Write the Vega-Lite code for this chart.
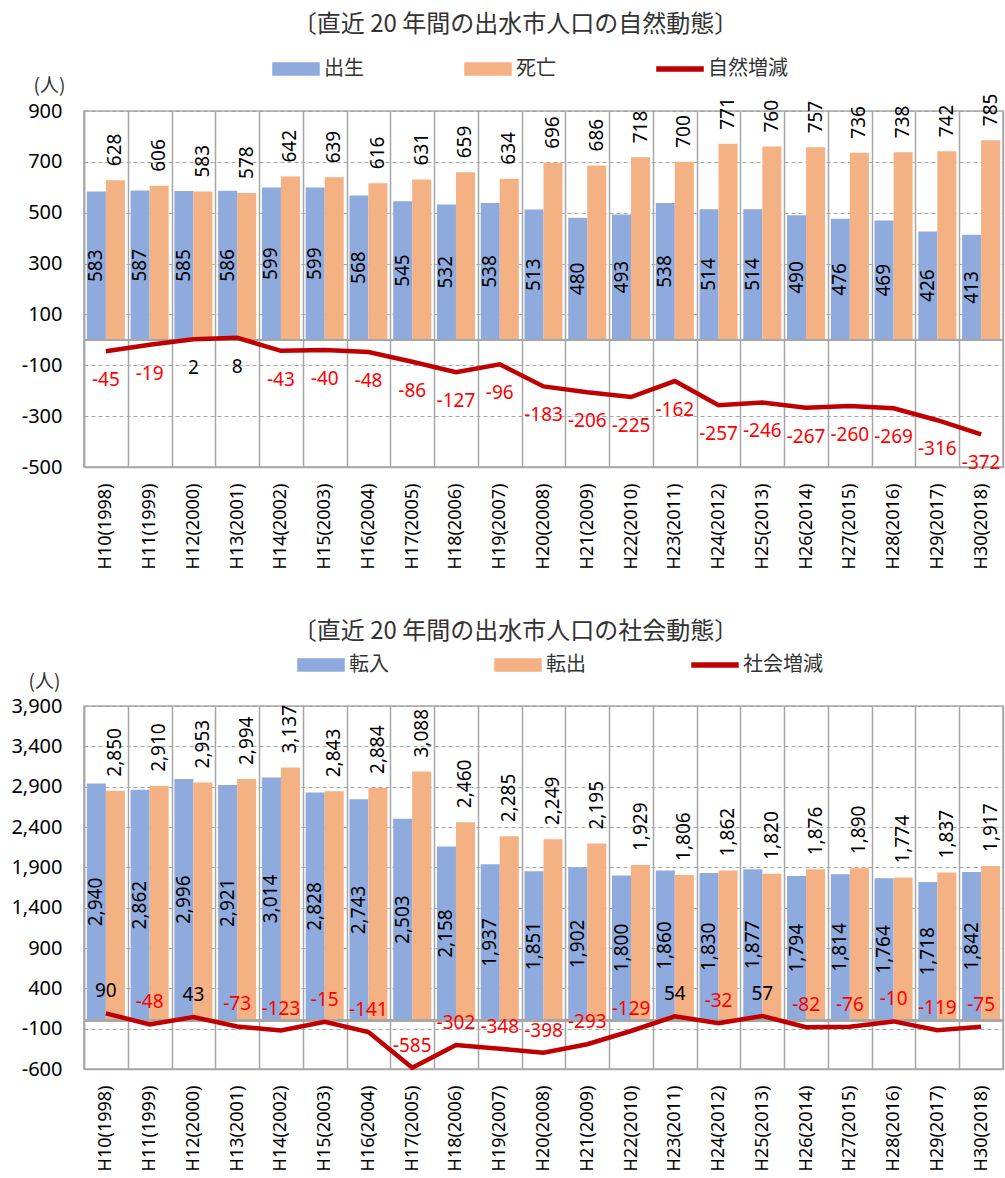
{
  "$schema": "https://vega.github.io/schema/vega-lite/v6.json",
  "padding": {"left": 10, "top": 12, "right": 0, "bottom": 0},
  "background": "white",
  "config": {
    "font": "Noto Sans CJK JP",
    "view": {"stroke": "#A6A6A6", "strokeWidth": 1.5},
    "axis": {"labelFont": "Noto Sans", "labelColor": "black", "labelFontSize": 18}
  },
  "datasets": {
    "nat": [
      {"year": "H10(1998)", "出生": 583, "死亡": 628, "自然増減": -45},
      {"year": "H11(1999)", "出生": 587, "死亡": 606, "自然増減": -19},
      {"year": "H12(2000)", "出生": 585, "死亡": 583, "自然増減": 2},
      {"year": "H13(2001)", "出生": 586, "死亡": 578, "自然増減": 8},
      {"year": "H14(2002)", "出生": 599, "死亡": 642, "自然増減": -43},
      {"year": "H15(2003)", "出生": 599, "死亡": 639, "自然増減": -40},
      {"year": "H16(2004)", "出生": 568, "死亡": 616, "自然増減": -48},
      {"year": "H17(2005)", "出生": 545, "死亡": 631, "自然増減": -86},
      {"year": "H18(2006)", "出生": 532, "死亡": 659, "自然増減": -127},
      {"year": "H19(2007)", "出生": 538, "死亡": 634, "自然増減": -96},
      {"year": "H20(2008)", "出生": 513, "死亡": 696, "自然増減": -183},
      {"year": "H21(2009)", "出生": 480, "死亡": 686, "自然増減": -206},
      {"year": "H22(2010)", "出生": 493, "死亡": 718, "自然増減": -225},
      {"year": "H23(2011)", "出生": 538, "死亡": 700, "自然増減": -162},
      {"year": "H24(2012)", "出生": 514, "死亡": 771, "自然増減": -257},
      {"year": "H25(2013)", "出生": 514, "死亡": 760, "自然増減": -246},
      {"year": "H26(2014)", "出生": 490, "死亡": 757, "自然増減": -267},
      {"year": "H27(2015)", "出生": 476, "死亡": 736, "自然増減": -260},
      {"year": "H28(2016)", "出生": 469, "死亡": 738, "自然増減": -269},
      {"year": "H29(2017)", "出生": 426, "死亡": 742, "自然増減": -316},
      {"year": "H30(2018)", "出生": 413, "死亡": 785, "自然増減": -372}
    ],
    "soc": [
      {"year": "H10(1998)", "転入": 2940, "転出": 2850, "社会増減": 90},
      {"year": "H11(1999)", "転入": 2862, "転出": 2910, "社会増減": -48},
      {"year": "H12(2000)", "転入": 2996, "転出": 2953, "社会増減": 43},
      {"year": "H13(2001)", "転入": 2921, "転出": 2994, "社会増減": -73},
      {"year": "H14(2002)", "転入": 3014, "転出": 3137, "社会増減": -123},
      {"year": "H15(2003)", "転入": 2828, "転出": 2843, "社会増減": -15},
      {"year": "H16(2004)", "転入": 2743, "転出": 2884, "社会増減": -141},
      {"year": "H17(2005)", "転入": 2503, "転出": 3088, "社会増減": -585},
      {"year": "H18(2006)", "転入": 2158, "転出": 2460, "社会増減": -302},
      {"year": "H19(2007)", "転入": 1937, "転出": 2285, "社会増減": -348},
      {"year": "H20(2008)", "転入": 1851, "転出": 2249, "社会増減": -398},
      {"year": "H21(2009)", "転入": 1902, "転出": 2195, "社会増減": -293},
      {"year": "H22(2010)", "転入": 1800, "転出": 1929, "社会増減": -129},
      {"year": "H23(2011)", "転入": 1860, "転出": 1806, "社会増減": 54},
      {"year": "H24(2012)", "転入": 1830, "転出": 1862, "社会増減": -32},
      {"year": "H25(2013)", "転入": 1877, "転出": 1820, "社会増減": 57},
      {"year": "H26(2014)", "転入": 1794, "転出": 1876, "社会増減": -82},
      {"year": "H27(2015)", "転入": 1814, "転出": 1890, "社会増減": -76},
      {"year": "H28(2016)", "転入": 1764, "転出": 1774, "社会増減": -10},
      {"year": "H29(2017)", "転入": 1718, "転出": 1837, "社会増減": -119},
      {"year": "H30(2018)", "転入": 1842, "転出": 1917, "社会増減": -75}
    ]
  },
  "spacing": 49,
  "resolve": {
    "scale": {"color": "independent", "x": "independent", "y": "independent", "xOffset": "independent"},
    "legend": {"color": "independent"}
  },
  "vconcat": [
    {
      "width": 919,
      "height": 356,
      "title": {"text": "〔直近 20 年間の出水市人口の自然動態〕", "fontSize": 24, "fontWeight": "normal", "color": "#333333", "dx": -28, "offset": 8},
      "data": {"name": "nat"},
      "resolve": {"scale": {"y": "independent"}},
      "layer": [
        {
          "transform": [{"fold": ["出生", "死亡"], "as": ["key", "value"]}],
          "mark": {"type": "bar"},
          "encoding": {
            "x": {"field": "year", "type": "nominal", "sort": null, "title": null,
              "scale": {"paddingInner": 0, "paddingOuter": 0},
              "axis": {"labelAngle": -90, "labelPadding": 16, "ticks": false, "tickBand": "extent", "grid": true, "gridColor": "#A6A6A6", "gridWidth": 1.5, "domainColor": "#A6A6A6", "domainWidth": 1.5}},
            "xOffset": {"field": "key", "type": "nominal", "sort": ["出生", "死亡"], "scale": {"paddingOuter": 0.15, "paddingInner": 0}},
            "y": {"field": "value", "type": "quantitative", "scale": {"domain": [-500, 900], "nice": false, "zero": false},
              "axis": {"values": [900, 700, 500, 300, 100, -100, -300, -500], "labelExpr": "replace(format(datum.value, ',d'), '\u2212', '-')", "labelFontSize": 20, "grid": true, "gridDash": [4, 3], "gridColor": "#A6A6A6", "gridWidth": 1.2, "domainColor": "#A6A6A6", "domainWidth": 1.5, "ticks": false, "labelPadding": 22,
                "title": "(人)", "titleAngle": 0, "titleAlign": "center", "titleBaseline": "middle", "titleX": -35, "titleY": -26, "titleFontSize": 19, "titleFontWeight": "normal", "titleColor": "#333333"}},
            "color": {"field": "key", "type": "nominal", "scale": {"domain": ["出生", "死亡", "自然増減"], "range": ["#8FAADC", "#F4B183", "#C00000"]},
              "legend": {"orient": "none", "legendX": 188, "legendY": -66, "direction": "horizontal", "title": null, "symbolSize": 2116, "labelFontSize": 20, "labelOffset": 4, "columnPadding": 98, "labelColor": "#333333", "labelFont": "Noto Sans CJK JP",
                "encode": {"symbols": {"update": {
                  "shape": {"signal": "datum.value === '自然増減' ? 'M-1,-0.09H1V0.09H-1Z' : 'M-1,-0.26H1V0.26H-1Z'"},
                  "fill": {"signal": "datum.value === '出生' ? '#8FAADC' : datum.value === '死亡' ? '#F4B183' : '#C00000'"},
                  "stroke": {"value": "transparent"},
                  "opacity": {"value": 1}}}}}}
          }
        },
        {
          "mark": {"type": "rule", "color": "#A6A6A6", "strokeWidth": 1.5},
          "encoding": {"y": {"datum": 0, "type": "quantitative", "scale": {"domain": [-500, 900], "nice": false, "zero": false}, "axis": null}}
        },
        {
          "mark": {"type": "line", "strokeWidth": 4.5},
          "encoding": {
            "x": {"field": "year", "type": "nominal", "sort": null},
            "y": {"field": "自然増減", "type": "quantitative", "scale": {"domain": [-500, 900], "nice": false, "zero": false}, "axis": null},
            "color": {"datum": "自然増減"}
          }
        },
        {
          "mark": {"type": "text", "angle": 270, "align": "left", "baseline": "middle", "dx": 14, "fontSize": 19, "font": "Noto Sans", "color": "black"},
          "encoding": {
            "x": {"field": "year", "type": "nominal", "sort": null},
            "xOffset": {"datum": "死亡", "type": "nominal"},
            "y": {"field": "死亡", "type": "quantitative", "scale": {"domain": [-500, 900], "nice": false, "zero": false}, "axis": null},
            "text": {"field": "死亡", "type": "nominal"}
          }
        },
        {
          "mark": {"type": "text", "angle": 270, "align": "center", "baseline": "middle", "fontSize": 19, "font": "Noto Sans", "color": "black"},
          "encoding": {
            "x": {"field": "year", "type": "nominal", "sort": null},
            "xOffset": {"datum": "出生", "type": "nominal"},
            "y": {"field": "出生", "type": "quantitative", "scale": {"domain": [-1000, 1800], "nice": false, "zero": false}, "axis": null},
            "text": {"field": "出生", "type": "nominal"}
          }
        },
        {
          "mark": {"type": "text", "align": "center", "baseline": "middle", "dy": 29, "fontSize": 19, "font": "Noto Sans"},
          "encoding": {
            "x": {"field": "year", "type": "nominal", "sort": null},
            "y": {"field": "自然増減", "type": "quantitative", "scale": {"domain": [-500, 900], "nice": false, "zero": false}, "axis": null},
            "text": {"field": "自然増減", "type": "nominal"},
            "color": {"condition": {"test": "datum['自然増減'] < 0", "value": "#FF0000"}, "value": "black"}
          }
        }
      ]
    },
    {
      "width": 919,
      "height": 363,
      "title": {"text": "〔直近 20 年間の出水市人口の社会動態〕", "fontSize": 24, "fontWeight": "normal", "color": "#333333", "dx": -28, "offset": -3},
      "data": {"name": "soc"},
      "resolve": {"scale": {"y": "independent"}},
      "layer": [
        {
          "transform": [{"fold": ["転入", "転出"], "as": ["key", "value"]}],
          "mark": {"type": "bar"},
          "encoding": {
            "x": {"field": "year", "type": "nominal", "sort": null, "title": null,
              "scale": {"paddingInner": 0, "paddingOuter": 0},
              "axis": {"labelAngle": -90, "labelPadding": 16, "ticks": false, "tickBand": "extent", "grid": true, "gridColor": "#A6A6A6", "gridWidth": 1.5, "domainColor": "#A6A6A6", "domainWidth": 1.5}},
            "xOffset": {"field": "key", "type": "nominal", "sort": ["転入", "転出"], "scale": {"paddingOuter": 0.15, "paddingInner": 0}},
            "y": {"field": "value", "type": "quantitative", "scale": {"domain": [-600, 3900], "nice": false, "zero": false},
              "axis": {"values": [3900, 3400, 2900, 2400, 1900, 1400, 900, 400, -100, -600], "labelExpr": "replace(format(datum.value, ',d'), '\u2212', '-')", "labelFontSize": 20, "grid": true, "gridDash": [4, 3], "gridColor": "#A6A6A6", "gridWidth": 1.2, "domainColor": "#A6A6A6", "domainWidth": 1.5, "ticks": false, "labelPadding": 22,
                "title": "(人)", "titleAngle": 0, "titleAlign": "center", "titleBaseline": "middle", "titleX": -40, "titleY": -25, "titleFontSize": 19, "titleFontWeight": "normal", "titleColor": "#333333"}},
            "color": {"field": "key", "type": "nominal", "scale": {"domain": ["転入", "転出", "社会増減"], "range": ["#8FAADC", "#F4B183", "#C00000"]},
              "legend": {"orient": "none", "legendX": 213, "legendY": -65, "direction": "horizontal", "title": null, "symbolSize": 2116, "labelFontSize": 20, "labelOffset": 4, "columnPadding": 103, "labelColor": "#333333", "labelFont": "Noto Sans CJK JP",
                "encode": {"symbols": {"update": {
                  "shape": {"signal": "datum.value === '社会増減' ? 'M-1,-0.09H1V0.09H-1Z' : 'M-1,-0.26H1V0.26H-1Z'"},
                  "fill": {"signal": "datum.value === '転入' ? '#8FAADC' : datum.value === '転出' ? '#F4B183' : '#C00000'"},
                  "stroke": {"value": "transparent"},
                  "opacity": {"value": 1}}}}}}
          }
        },
        {
          "mark": {"type": "rule", "color": "#A6A6A6", "strokeWidth": 1.5},
          "encoding": {"y": {"datum": 0, "type": "quantitative", "scale": {"domain": [-600, 3900], "nice": false, "zero": false}, "axis": null}}
        },
        {
          "mark": {"type": "line", "strokeWidth": 4.5},
          "encoding": {
            "x": {"field": "year", "type": "nominal", "sort": null},
            "y": {"field": "社会増減", "type": "quantitative", "scale": {"domain": [-600, 3900], "nice": false, "zero": false}, "axis": null},
            "color": {"datum": "社会増減"}
          }
        },
        {
          "mark": {"type": "text", "angle": 270, "align": "left", "baseline": "middle", "dx": 14, "fontSize": 19, "font": "Noto Sans", "color": "black"},
          "encoding": {
            "x": {"field": "year", "type": "nominal", "sort": null},
            "xOffset": {"datum": "転出", "type": "nominal"},
            "y": {"field": "転出", "type": "quantitative", "scale": {"domain": [-600, 3900], "nice": false, "zero": false}, "axis": null},
            "text": {"field": "転出", "type": "quantitative", "format": ","}
          }
        },
        {
          "mark": {"type": "text", "angle": 270, "align": "center", "baseline": "middle", "fontSize": 19, "font": "Noto Sans", "color": "black"},
          "encoding": {
            "x": {"field": "year", "type": "nominal", "sort": null},
            "xOffset": {"datum": "転入", "type": "nominal"},
            "y": {"field": "転入", "type": "quantitative", "scale": {"domain": [-1200, 7800], "nice": false, "zero": false}, "axis": null},
            "text": {"field": "転入", "type": "quantitative", "format": ","}
          }
        },
        {
          "mark": {"type": "text", "align": "center", "baseline": "middle", "dy": -22, "fontSize": 19, "font": "Noto Sans"},
          "encoding": {
            "x": {"field": "year", "type": "nominal", "sort": null},
            "y": {"field": "社会増減", "type": "quantitative", "scale": {"domain": [-600, 3900], "nice": false, "zero": false}, "axis": null},
            "text": {"field": "社会増減", "type": "nominal"},
            "color": {"condition": {"test": "datum['社会増減'] < 0", "value": "#FF0000"}, "value": "black"}
          }
        }
      ]
    }
  ]
}
